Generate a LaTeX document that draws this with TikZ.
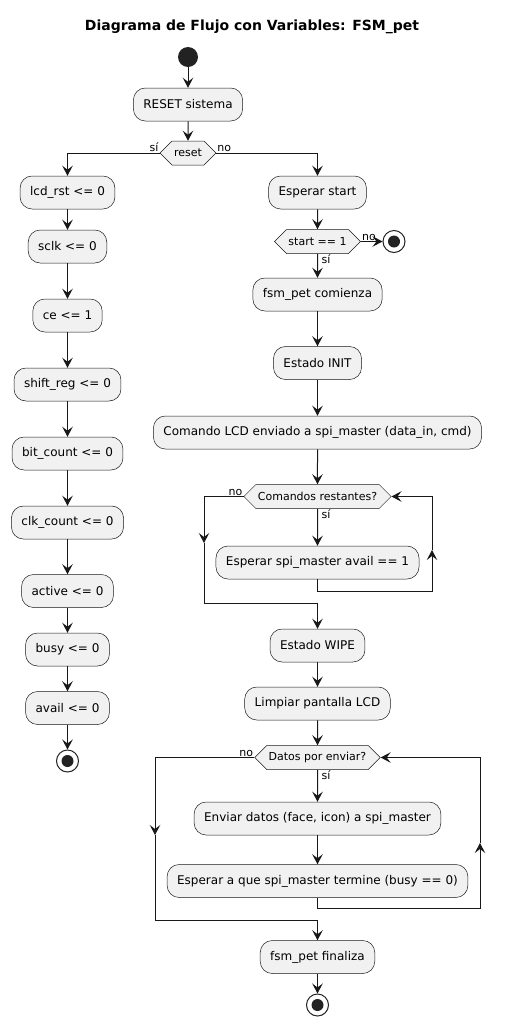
\documentclass[tikz,border=0pt]{standalone}
\usepackage{fontspec}
\setmainfont{DejaVu Sans}
\usetikzlibrary{arrows.meta,shapes.symbols,positioning}
\definecolor{umlfill}{HTML}{F1F1F1}
\definecolor{umlline}{HTML}{181818}
\definecolor{umldot}{HTML}{222222}
\begin{document}
\begin{tikzpicture}[x=1pt,y=-1pt,
    act/.style={draw=umlline, fill=umlfill, rounded corners=12pt, line width=0.5pt, minimum height=33pt, inner xsep=10pt, font=\fontsize{12}{14}\selectfont},
    cond/.style={draw=umlline, fill=umlfill, line width=0.5pt, signal, signal to=east and west, minimum height=24pt, inner xsep=2pt, font=\fontsize{11}{13}\selectfont},
    lbl/.style={inner sep=1pt, font=\fontsize{11}{13}\selectfont},
    arr/.style={draw=umlline, line width=1pt, -{Stealth[length=10pt,width=10.5pt,inset=4pt]}},
    startdot/.style={circle, fill=umldot, minimum size=20pt, inner sep=0pt},
    stopdot/.style={circle, draw=umldot, line width=1pt, fill=white, minimum size=22pt, inner sep=0pt,
      path picture={\fill[umldot] (path picture bounding box.center) circle (6pt);}}]
  \useasboundingbox (0,0) rectangle (505,1026);

  \node[font=\bfseries\fontsize{14}{16}\selectfont] (title) at (252,27) {Diagrama de Flujo con Variables: FSM\_pet};

  \node[startdot] (start) at (188,57) {};
  \node[act] (rst) at (188,104.5) {RESET sistema};
  \node[cond] (reset) at (188,153) {reset};

  % rama izquierda
  \node[act] (lcd) at (67.5,192.5) {lcd\_rst <= 0};
  \node[act] (sclk) at (67.5,246.5) {sclk <= 0};
  \node[act] (ce) at (67.5,315.5) {ce <= 1};
  \node[act] (shift) at (67.5,384.5) {shift\_reg <= 0};
  \node[act] (bit) at (67.5,453.5) {bit\_count <= 0};
  \node[act] (clk) at (67.5,522.5) {clk\_count <= 0};
  \node[act] (active) at (67.5,591) {active <= 0};
  \node[act] (busy) at (67.5,649.5) {busy <= 0};
  \node[act] (avail) at (67.5,708) {avail <= 0};
  \node[stopdot] (stopL) at (67.5,761) {};

  % rama derecha
  \node[act] (wait) at (317.5,192.5) {Esperar start};
  \node[cond] (startq) at (317.5,241.5) {start == 1};
  \node[stopdot] (stopR) at (394,241.5) {};
  \node[act] (begin) at (317.5,294.5) {fsm\_pet comienza};
  \node[act] (init) at (317.5,363) {Estado INIT};
  \node[act] (cmd) at (317.5,432.5) {Comando LCD enviado a spi\_master (data\_in, cmd)};
  \node[cond] (cmdq) at (317.5,496.5) {Comandos restantes?};
  \node[act] (availq) at (317.5,562.5) {Esperar spi\_master avail == 1};
  \node[act] (wipe) at (317.5,645.5) {Estado WIPE};
  \node[act] (clear) at (317.5,703.5) {Limpiar pantalla LCD};
  \node[cond] (dataq) at (317.5,757.5) {Datos por enviar?};
  \node[act] (send) at (317.5,818.5) {Enviar datos (face, icon) a spi\_master};
  \node[act] (waitbusy) at (317.5,881) {Esperar a que spi\_master termine (busy == 0)};
  \node[act] (fin) at (317.5,957) {fsm\_pet finaliza};
  \node[stopdot] (stopE) at (317.5,1005) {};

  \node[lbl, anchor=south east] (resetyes) at (reset.west) {sí};
  \node[lbl, anchor=south west] (resetno) at (reset.east) {no};
  \node[lbl, anchor=south west] (startno) at (startq.east) {no};
  \node[lbl, anchor=north west] (startyes) at ([xshift=3pt]startq.south) {sí};
  \node[lbl, anchor=south east] (cmdno) at (cmdq.west) {no};
  \node[lbl, anchor=north west] (cmdyes) at ([xshift=3pt]cmdq.south) {sí};
  \node[lbl, anchor=south east] (datano) at (dataq.west) {no};
  \node[lbl, anchor=north west] (datayes) at ([xshift=3pt]dataq.south) {sí};

  \coordinate (cmdl) at (204,543);
  \coordinate (cmdj) at (317.5,603);
  \coordinate (cmdb) at (432,591);
  \coordinate (cmdr) at (432,550);
  \coordinate (datal) at (155,835);
  \coordinate (dataj) at (317.5,920);
  \coordinate (datab) at (480,908);
  \coordinate (datar) at (480,843);

  \draw[arr] (start) -- (rst);
  \draw[arr] (rst) -- (reset);
  \draw[arr] (reset.west) -| (lcd);
  \draw[arr] (reset.east) -| (wait);
  \foreach \a/\b in {lcd/sclk, sclk/ce, ce/shift, shift/bit, bit/clk, clk/active, active/busy, busy/avail, avail/stopL}
    \draw[arr] (\a) -- (\b);
  \draw[arr] (wait) -- (startq);
  \draw[arr] (startq.east) -- (stopR);
  \draw[arr] (startq) -- (begin);
  \draw[arr] (begin) -- (init);
  \draw[arr] (init) -- (cmd);
  \draw[arr] (cmd) -- (cmdq);
  \draw[arr] (cmdq) -- (availq);
  \draw[arr] (availq.south) |- (cmdb) -- (cmdr);
  \draw[arr] (cmdr) |- (cmdq.east);
  \draw[arr] (cmdq.west) -| (cmdl);
  \draw[arr] (cmdl) |- (cmdj) -- (wipe);
  \draw[arr] (wipe) -- (clear);
  \draw[arr] (clear) -- (dataq);
  \draw[arr] (dataq) -- (send);
  \draw[arr] (send) -- (waitbusy);
  \draw[arr] (waitbusy.south) |- (datab) -- (datar);
  \draw[arr] (datar) |- (dataq.east);
  \draw[arr] (dataq.west) -| (datal);
  \draw[arr] (datal) |- (dataj) -- (fin);
  \draw[arr] (fin) -- (stopE);
\end{tikzpicture}
\end{document}
